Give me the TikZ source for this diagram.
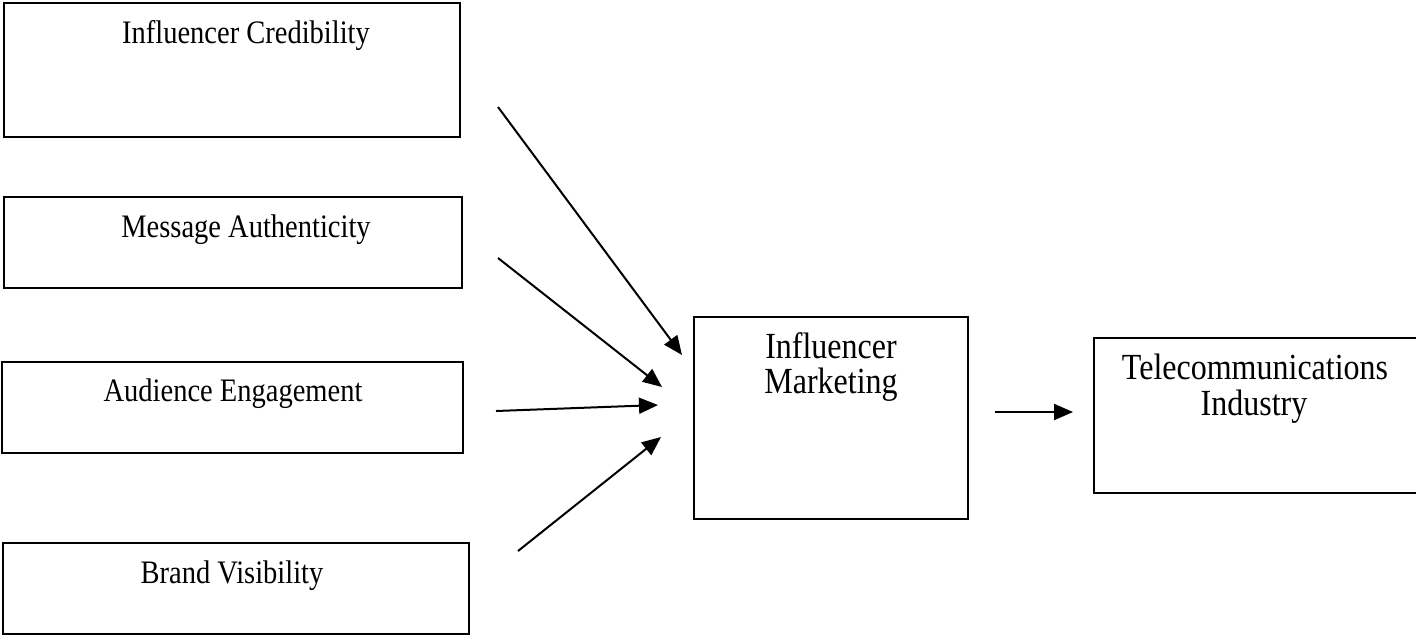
\documentclass[tikz,border=0pt]{standalone}
\usepackage{fontspec}
\setmainfont{Liberation Serif}
\usetikzlibrary{arrows.meta}
\newcommand{\tallr}[1]{\scalebox{1}[1.15]{#1}}
\begin{document}
\begin{tikzpicture}[x=0.5pt,y=-0.5pt,
  box/.style={draw,line width=1pt,inner sep=0pt},
  lbl/.style={anchor=base,inner sep=0pt,font=\fontsize{14.25pt}{16pt}\selectfont},
  lblr/.style={anchor=base,inner sep=0pt,font=\fontsize{16pt}{17.5pt}\selectfont},
  arr/.style={line width=1pt,-{Triangle[length=9.5pt,width=8pt]}}]
\useasboundingbox (0,0) rectangle (1416,634);
% left boxes
\node[box,minimum width=228pt,minimum height=67pt] (b1) at (232,70) {};
\node[box,minimum width=229pt,minimum height=45.5pt] (b2) at (233,242.5) {};
\node[box,minimum width=230.5pt,minimum height=45.5pt] (b3) at (232.5,407.5) {};
\node[box,minimum width=233pt,minimum height=45.5pt] (b4) at (236,588) {};
\node[lbl] (t1) at (246,43) {\tallr{Influencer Credibility}};
\node[lbl] (t2) at (246,237) {\tallr{Message Authenticity}};
\node[lbl] (t3) at (233,401) {\tallr{Audience Engagement}};
\node[lbl] (t4) at (232,583) {\tallr{Brand Visibility}};
% middle box
\node[box,minimum width=137pt,minimum height=101pt] (im) at (831,418) {};
\node[lblr] (tim1) at (831,358) {\tallr{Influencer}};
\node[lblr] (tim2) at (831,393) {\tallr{Marketing}};
% right box
\node[box,minimum width=163pt,minimum height=77.5pt] (tc) at (1256.5,415.5) {};
\node[lblr] (ttc1) at (1255,379) {\tallr{Telecommunications}};
\node[lblr] (ttc2) at (1254,415) {\tallr{Industry}};
% arrows
\coordinate (s1) at (498,107); \coordinate (e1) at (682,355);
\coordinate (s2) at (498,258); \coordinate (e2) at (662,387);
\coordinate (s3) at (496,411); \coordinate (e3) at (658,405);
\coordinate (s4) at (518,551); \coordinate (e4) at (661,437);
\coordinate (s5) at (995,412); \coordinate (e5) at (1073,412);
\draw[arr] (s1) -- (e1);
\draw[arr] (s2) -- (e2);
\draw[arr] (s3) -- (e3);
\draw[arr] (s4) -- (e4);
\draw[arr] (s5) -- (e5);
\end{tikzpicture}
\end{document}
